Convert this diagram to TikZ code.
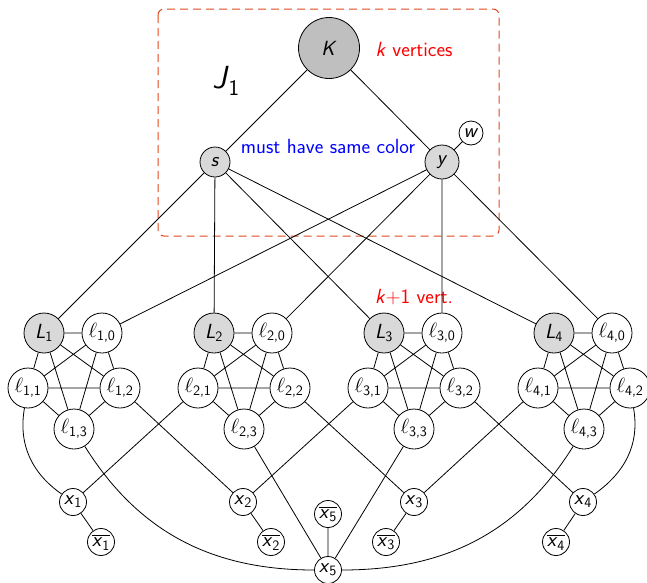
\documentclass[tikz,border=0pt]{standalone}
\usepackage{amsmath}
\newcommand\sv[1]{\textsf{\textit{#1}}}
\newcommand\sub[1]{\textsf{#1}}
\definecolor{boxred}{RGB}{225,70,30}
\begin{document}
\begin{tikzpicture}[x=1pt,y=-1pt,
  every node/.style={font=\fontsize{20.5}{24}\selectfont\sffamily},
  vtx/.style={circle,draw,line width=0.8pt,inner sep=0pt,fill=white},
  lit/.style={vtx,minimum size=40pt},
  var/.style={vtx,minimum size=27pt},
  every path/.style={line width=0.8pt}]
\useasboundingbox (0,0) rectangle (647,582);

% gadget J_1
\draw[boxred,line width=1pt,dash pattern=on 8pt off 5pt,rounded corners=6pt] (158,9) rectangle (499,236);
\node[vtx,fill=gray!50,minimum size=61pt] (K) at (329,48) {$\sv{K}$};
\node[vtx,fill=gray!30,minimum size=30pt] (s) at (215,162) {$\sv{s}$};
\node[vtx,fill=gray!30,minimum size=34pt] (y) at (442,162) {$\sv{y}$};
\node[vtx,minimum size=24pt] (w) at (471,133) {$\sv{w}$};
\node[text=red] (kv) at (414,49) {\sv{k} vertices};
\node[text=blue] (same) at (328,146) {must have same color};
\node[font=\fontsize{32}{36}\selectfont\sffamily] (J) at (226,81) {$\sv{J}_{\sub{1}}$};
\draw (K) -- (s) (K) -- (y) (y) -- (w);

\node[text=red] (kp) at (414,297) {\sv{k}+1 vert.};

% the four literal cliques
\foreach \i in {1,...,4} {
  \pgfmathsetmacro\bx{44+170*(\i-1)}
  \node[lit,fill=gray!30] (L\i) at (\bx,333) {$\sv{L}_{\sub{\i}}$};
  \node[lit] (l\i0) at (\bx+58,333) {$\ell_{\sub{\i,0}}$};
  \node[lit] (l\i1) at (\bx-16,388) {$\ell_{\sub{\i,1}}$};
  \node[lit] (l\i2) at (\bx+76,388) {$\ell_{\sub{\i,2}}$};
  \node[lit] (l\i3) at (\bx+30,429) {$\ell_{\sub{\i,3}}$};
  \draw (L\i) -- (l\i0) (L\i) -- (l\i1) (L\i) -- (l\i2) (L\i) -- (l\i3)
        (l\i0) -- (l\i1) (l\i0) -- (l\i2) (l\i0) -- (l\i3)
        (l\i1) -- (l\i2) (l\i1) -- (l\i3) (l\i2) -- (l\i3);
  \draw (s) -- (L\i) (y) -- (l\i0);
}

% variable vertices
\node[var] (x1) at (73,502) {$\sv{x}_{\sub{1}}$};
\node[var] (nx1) at (101,542) {$\overline{\sv{x}_{\sub{1}}}$};
\node[var] (x2) at (243,502) {$\sv{x}_{\sub{2}}$};
\node[var] (nx2) at (271,542) {$\overline{\sv{x}_{\sub{2}}}$};
\node[var] (x3) at (414,502) {$\sv{x}_{\sub{3}}$};
\node[var] (nx3) at (386,542) {$\overline{\sv{x}_{\sub{3}}}$};
\node[var] (x4) at (583,502) {$\sv{x}_{\sub{4}}$};
\node[var] (nx4) at (556,542) {$\overline{\sv{x}_{\sub{4}}}$};
\node[var] (nx5) at (328,514) {$\overline{\sv{x}_{\sub{5}}}$};
\node[var] (x5) at (328,570) {$\sv{x}_{\sub{5}}$};

\draw (x1) -- (nx1) (x2) -- (nx2) (x3) -- (nx3) (x4) -- (nx4) (x5) -- (nx5);

% literal-to-variable connections
\draw (l11) to[out=-100,in=145] (x1);
\draw (x1) -- (l21);
\draw (l12) -- (x2);
\draw (x2) -- (l31);
\draw (l22) -- (x3);
\draw (x3) -- (l41);
\draw (l32) -- (x4);
\draw (l42) to[out=-80,in=35] (x4);
\draw (l13) to[out=-58,in=180] (x5);
\draw (l23) -- (x5);
\draw (l33) -- (x5);
\draw (l43) to[out=-122,in=0] (x5);
\end{tikzpicture}
\end{document}
